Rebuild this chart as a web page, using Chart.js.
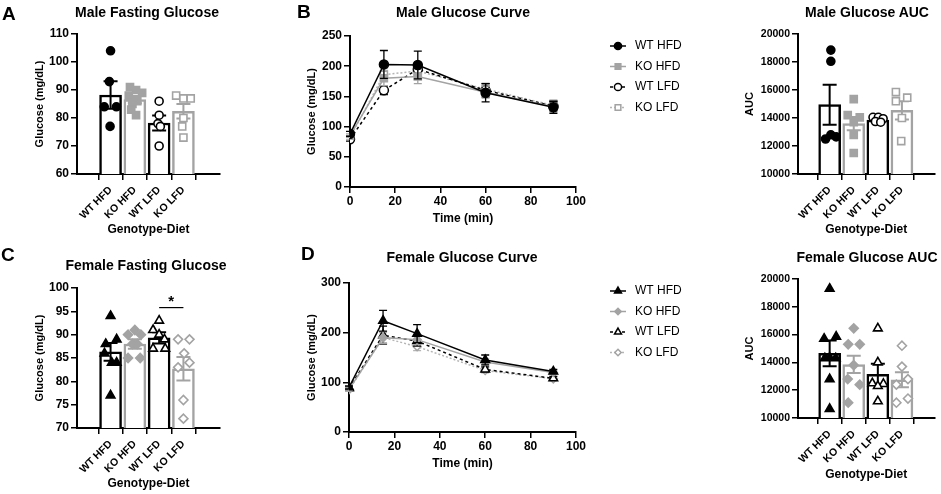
<!DOCTYPE html>
<html><head><meta charset="utf-8">
<script src="https://cdn.jsdelivr.net/npm/chart.js@4.4.1/dist/chart.umd.min.js"></script>
<style>
html,body{margin:0;padding:0;background:#fff;}
body{width:941px;height:494px;position:relative;overflow:hidden;font-family:"Liberation Sans",Arial,sans-serif;}
canvas{position:absolute;}
.t{position:absolute;font-weight:bold;color:#000;white-space:nowrap;line-height:1;}
.c{transform:translateX(-50%);font-size:14px;}
</style></head><body>
<canvas id="cA" width="230" height="245" style="left:0;top:0"></canvas>
<canvas id="cB" width="460" height="245" style="left:240px;top:0"></canvas>
<canvas id="cMA" width="241" height="245" style="left:700px;top:0"></canvas>
<canvas id="cC" width="230" height="249" style="left:0;top:245px"></canvas>
<canvas id="cD" width="460" height="249" style="left:240px;top:245px"></canvas>
<canvas id="cFA" width="241" height="249" style="left:700px;top:245px"></canvas>
<div class="t" style="left:2px;top:4px;font-size:19px">A</div>
<div class="t" style="left:297px;top:2px;font-size:19px">B</div>
<div class="t" style="left:1px;top:245px;font-size:19px">C</div>
<div class="t" style="left:301px;top:244px;font-size:19px">D</div>
<div class="t c" style="left:147px;top:5px">Male Fasting Glucose</div>
<div class="t c" style="left:463px;top:5px">Male Glucose Curve</div>
<div class="t c" style="left:867px;top:5px">Male Glucose AUC</div>
<div class="t c" style="left:146px;top:258px">Female Fasting Glucose</div>
<div class="t c" style="left:462px;top:250px">Female Glucose Curve</div>
<div class="t c" style="left:867px;top:250px">Female Glucose AUC</div>
<script>
// ---------- DATA ----------
const groups = ['WT HFD', 'KO HFD', 'WT LFD', 'KO LFD'];
const timePoints = [0, 15, 30, 60, 90];

// A: male fasting glucose (mg/dL)
const maleFastMean = [88.2, 86.6, 78.2, 82.4];
const maleFastSem = [4.9, 1.3, 2.7, 2.6];
const maleFastPts = [[104, 93, 84, 84, 77], [91, 90, 89, 88, 86, 85, 83, 81], [86, 81, 78, 77, 70], [88, 87, 87, 80, 77, 73]];
const maleFastJit = [[0, -0.05, -0.26, 0.24, -0.02], [-0.2, 0.05, 0.3, -0.25, 0.1, -0.1, -0.15, 0.05], [0, 0, -0.05, 0.05, 0], [-0.3, 0, 0.3, 0, -0.05, 0]];

// B: male glucose curve
const mWtHfd = [88, 203, 202, 156, 132];
const mWtHfdSem = [4, 23, 23, 15, 10];
const mKoHfd = [85, 180, 183, 157, 133];
const mKoHfdSem = [3, 12, 12, 10, 10];
const mWtLfd = [79, 160, 195, 160, 134];
const mWtLfdSem = [3, 7, 10, 11, 8];
const mKoLfd = [82, 186, 192, 162, 135];
const mKoLfdSem = [3, 10, 13, 10, 9];

// Male AUC
const mAucMean = [14950, 13600, 13850, 14550];
const mAucSem = [1430, 480, 100, 650];
const mAucPts = [[18850, 18050, 12800, 12650, 12500], [15350, 14200, 14050, 13700, 12800, 11500], [14050, 14050, 13950, 13750, 13700], [15850, 15450, 15200, 14000, 12350]];
const mAucJit = [[0.05, 0.05, 0.05, 0.27, -0.17], [0, -0.25, 0.25, 0, 0, 0], [-0.2, 0.02, 0.22, -0.1, 0.12], [-0.25, 0.22, -0.25, 0, -0.03]];

// C: female fasting glucose
const femFastMean = [86.3, 88.0, 89.3, 82.7];
const femFastSem = [1.9, 1.0, 1.2, 2.5];
const femFastPts = [[94, 89, 88, 86, 84, 84, 77], [91, 90, 90, 88, 88, 85, 85], [93, 91, 90, 89, 87, 87], [89, 89, 86, 84, 83, 76, 72]];
const femFastJit = [[0, 0.25, -0.2, -0.25, 0.05, 0.25, 0], [0, -0.28, 0.25, -0.1, 0.1, -0.28, 0.22], [0, -0.25, 0, 0.22, -0.25, 0.25], [-0.22, 0.25, 0.03, 0.25, -0.22, 0, 0]];
const sigPair = [2, 3];
const sigLevel = 95.8;

// D: female glucose curve
const fWtHfd = [90, 224, 198, 145, 122];
const fWtHfdSem = [3, 21, 18, 10, 4];
const fKoHfd = [86, 190, 186, 141, 120];
const fKoHfdSem = [3, 12, 10, 6, 4];
const fWtLfd = [88, 195, 183, 126, 108];
const fWtLfdSem = [3, 18, 10, 5, 4];
const fKoLfd = [85, 190, 172, 124, 107];
const fKoLfdSem = [3, 10, 8, 5, 4];

// Female AUC
const fAucMean = [14650, 13850, 13150, 12750];
const fAucSem = [920, 620, 760, 540];
const fAucPts = [[19300, 15850, 15700, 14350, 14300, 14300, 12800, 10650], [16450, 15300, 15300, 13800, 12800, 12400, 11100], [16450, 14000, 12500, 12450, 12300, 11200], [15200, 13700, 12800, 12400, 11400, 11100]];
const fAucJit = [[0, 0.27, -0.23, 0, -0.2, 0.25, 0, 0], [0, -0.23, 0.25, 0, -0.25, 0.25, -0.23], [0, 0, -0.23, 0.23, 0, 0], [0, 0, 0.25, -0.23, 0.25, -0.23]];

// ---------- STYLE ----------
Chart.defaults.font.family = "'Liberation Sans', Arial, sans-serif";
Chart.defaults.color = '#000';
const BLACK = '#000000', GRAY = '#a3a3a3', LGRAY = '#b5b5b5';
const groupColors = [BLACK, GRAY, BLACK, GRAY];
const bold = s => ({ size: s, weight: 'bold' });

function drawErr(chart, meta, ds) {
  const ctx = chart.ctx, ys = chart.scales.y;
  ctx.save(); ctx.setLineDash([]); ctx.lineWidth = ds.errWidth;
  meta.data.forEach((el, i) => {
    const v = ds.data[i].y, e = ds.errors[i], x = el.x, h = ds.capHalf;
    const yT = ys.getPixelForValue(v + e), yB = ys.getPixelForValue(v - e);
    ctx.strokeStyle = Array.isArray(ds.errColor) ? ds.errColor[i] : ds.errColor;
    ctx.beginPath();
    ctx.moveTo(x, yT); ctx.lineTo(x, yB);
    ctx.moveTo(x - h, yT); ctx.lineTo(x + h, yT);
    ctx.moveTo(x - h, yB); ctx.lineTo(x + h, yB);
    ctx.stroke();
  });
  ctx.restore();
}
const errorBars = {
  id: 'errorBars',
  beforeDatasetDraw(chart, args) { const ds = chart.data.datasets[args.index]; if (ds.errors && ds.errBehind) drawErr(chart, args.meta, ds); },
  afterDatasetDraw(chart, args) { const ds = chart.data.datasets[args.index]; if (ds.errors && !ds.errBehind) drawErr(chart, args.meta, ds); }
};
function marker(ctx, ds, r, x, y) {
  ctx.fillStyle = ds.pointBackgroundColor; ctx.strokeStyle = ds.pointBorderColor; ctx.lineWidth = ds.pointBorderWidth;
  if (Chart.helpers && Chart.helpers.drawPoint) {
    Chart.helpers.drawPoint(ctx, { pointStyle: ds.pointStyle, radius: r, borderWidth: ds.pointBorderWidth, rotation: 0 }, x, y);
  } else { ctx.beginPath(); ctx.arc(x, y, r, 0, Math.PI * 2); ctx.fill(); ctx.stroke(); }
}
const sideLegend = {
  id: 'sideLegend',
  afterDraw(chart, args, o) {
    if (!o || o.x0 === undefined) return;
    const ctx = chart.ctx;
    chart.data.datasets.forEach((ds, i) => {
      const y = o.y0 + i * o.dy;
      ctx.save();
      ctx.strokeStyle = ds.borderColor; ctx.lineWidth = ds.borderWidth; ctx.setLineDash(ds.borderDash || []);
      ctx.beginPath(); ctx.moveTo(o.x0, y); ctx.lineTo(o.x1, y); ctx.stroke();
      ctx.setLineDash([]);
      marker(ctx, ds, ds.pointRadius * 0.8, (o.x0 + o.x1) / 2, y);
      ctx.fillStyle = '#000'; ctx.font = o.font; ctx.textBaseline = 'middle'; ctx.textAlign = 'left';
      ctx.fillText(ds.label, o.tx, y);
      ctx.restore();
    });
  }
};
const sigBar = {
  id: 'sigBar',
  afterDraw(chart, args, o) {
    if (!o || o.pair === undefined) return;
    const ctx = chart.ctx, xs = chart.scales.x, ys = chart.scales.y;
    const x1 = xs.getPixelForValue(o.pair[0]), x2 = xs.getPixelForValue(o.pair[1]), y = ys.getPixelForValue(o.level);
    ctx.save(); ctx.strokeStyle = '#000'; ctx.lineWidth = 1.2;
    ctx.beginPath(); ctx.moveTo(x1, y); ctx.lineTo(x2, y); ctx.stroke();
    ctx.fillStyle = '#000'; ctx.font = "bold 15px 'Liberation Sans', Arial"; ctx.textAlign = 'center'; ctx.textBaseline = 'bottom';
    ctx.fillText('*', (x1 + x2) / 2, y + 2);
    ctx.restore();
  }
};
const axisGrid = { drawOnChartArea: false, drawTicks: true, tickLength: 6, color: '#000', lineWidth: 1.5 };
const axisBorder = { display: true, color: '#000', width: 2 };

function barChart(id, p) {
  const datasets = [{
    type: 'bar', data: p.mean.map((v, i) => ({ x: i, y: v })),
    backgroundColor: '#fff', borderColor: groupColors, borderWidth: 2.5, barThickness: 22, order: 2,
    errors: p.sem, errColor: groupColors, capHalf: 7, errWidth: 2
  }];
  p.pts.forEach((arr, g) => {
    datasets.push({
      type: 'scatter', data: arr.map((v, k) => ({ x: g + p.jit[g][k], y: v })),
      pointStyle: p.styles[g], pointRadius: p.radii[g], pointBackgroundColor: p.fills[g],
      pointBorderColor: groupColors[g], pointBorderWidth: 1.6, order: 1
    });
  });
  new Chart(document.getElementById(id), {
    type: 'scatter', data: { datasets },
    options: {
      responsive: false, animation: false, layout: { padding: p.pad },
      plugins: { legend: { display: false }, tooltip: { enabled: false }, sigBar: p.sig || {} },
      scales: {
        x: {
          type: 'linear', min: p.xmin, max: p.xmax,
          afterBuildTicks: s => { s.ticks = groups.map((g, i) => ({ value: i })); },
          afterFit: s => { s.height = p.hx; },
          ticks: { autoSkip: false, minRotation: 45, maxRotation: 45, padding: 4, font: bold(10.5), color: '#000', callback: v => groups[v] },
          grid: axisGrid, border: axisBorder,
          title: { display: true, text: 'Genotype-Diet', font: bold(12), color: '#000', padding: { top: 0, bottom: p.tb } }
        },
        y: {
          type: 'linear', min: p.ymin, max: p.ymax,
          afterFit: s => { s.width = p.wy; },
          ticks: { stepSize: p.step, font: bold(p.yf), color: '#000', padding: 2, callback: v => String(v) },
          grid: axisGrid, border: axisBorder,
          title: { display: true, text: p.ytitle, font: bold(11), color: '#000', padding: { top: 4, bottom: 4 } }
        }
      }
    },
    plugins: [errorBars, sigBar]
  });
}

function lineDs(label, vals, sem, st) {
  return Object.assign({
    label, data: timePoints.map((t, i) => ({ x: t, y: vals[i] })), errors: sem, errBehind: true,
    borderWidth: 1.5, fill: false, tension: 0, pointBorderWidth: 1.5, capHalf: 4, errWidth: 1.3
  }, st);
}
function lineChart(id, p) {
  new Chart(document.getElementById(id), {
    type: 'line', data: { datasets: p.datasets },
    options: {
      responsive: false, animation: false, layout: { padding: p.pad },
      plugins: { legend: { display: false }, tooltip: { enabled: false }, sideLegend: p.legend },
      scales: {
        x: {
          type: 'linear', min: 0, max: 100, afterFit: s => { s.height = p.hx; },
          ticks: { stepSize: 20, font: bold(12), color: '#000', padding: 1, maxRotation: 0 },
          grid: axisGrid, border: axisBorder,
          title: { display: true, text: 'Time (min)', font: bold(12), color: '#000', padding: { top: 0, bottom: 4 } }
        },
        y: {
          type: 'linear', min: 0, max: p.ymax, afterFit: s => { s.width = p.wy; },
          ticks: { stepSize: p.step, font: bold(12), color: '#000', padding: 2 },
          grid: axisGrid, border: axisBorder,
          title: { display: true, text: 'Glucose (mg/dL)', font: bold(11), color: '#000', padding: { top: 4, bottom: 4 } }
        }
      }
    },
    plugins: [errorBars, sideLegend]
  });
}

const legendOpts = { x0: 370, x1: 386, tx: 395, y0: 46, dy: 20.5, font: "12px 'Liberation Sans', Arial, sans-serif" };

// A
barChart('cA', {
  mean: maleFastMean, sem: maleFastSem, pts: maleFastPts, jit: maleFastJit,
  styles: ['circle', 'rect', 'circle', 'rect'], radii: [4, 5, 4, 5], fills: [BLACK, GRAY, '#fff', '#fff'],
  pad: { left: 29, top: 34, right: 10, bottom: 4 }, wy: 48, hx: 67, tb: 4, xmin: -0.646, xmax: 3.77,
  ymin: 60, ymax: 110, step: 10, yf: 12, ytitle: 'Glucose (mg/dL)'
});
// B
lineChart('cB', {
  datasets: [
    lineDs('WT HFD', mWtHfd, mWtHfdSem, { borderColor: BLACK, errColor: BLACK, pointStyle: 'circle', pointRadius: 4.5, pointBackgroundColor: BLACK, pointBorderColor: BLACK }),
    lineDs('KO HFD', mKoHfd, mKoHfdSem, { borderColor: GRAY, errColor: GRAY, pointStyle: 'rect', pointRadius: 5, pointBackgroundColor: GRAY, pointBorderColor: GRAY }),
    lineDs('WT LFD', mWtLfd, mWtLfdSem, { borderColor: BLACK, errColor: BLACK, borderDash: [3, 3], pointStyle: 'circle', pointRadius: 4.5, pointBackgroundColor: '#fff', pointBorderColor: BLACK }),
    lineDs('KO LFD', mKoLfd, mKoLfdSem, { borderColor: LGRAY, errColor: LGRAY, borderDash: [2, 2], pointStyle: 'rect', pointRadius: 5, pointBackgroundColor: '#fff', pointBorderColor: GRAY })
  ],
  pad: { left: 61, top: 36, right: 124, bottom: 15 }, wy: 49, hx: 43, ymax: 250, step: 50, legend: legendOpts
});
// Male AUC
barChart('cMA', {
  mean: mAucMean, sem: mAucSem, pts: mAucPts, jit: mAucJit,
  styles: ['circle', 'rect', 'circle', 'rect'], radii: [4, 5, 4, 5], fills: [BLACK, GRAY, '#fff', '#fff'],
  pad: { left: 39, top: 34, right: 3, bottom: 4 }, wy: 59, hx: 67, tb: 4, xmin: -0.606, xmax: 3.64,
  ymin: 10000, ymax: 20000, step: 2000, yf: 10.5, ytitle: 'AUC'
});
// C
barChart('cC', {
  mean: femFastMean, sem: femFastSem, pts: femFastPts, jit: femFastJit,
  styles: ['triangle', 'rectRot', 'triangle', 'rectRot'], radii: [5, 4.5, 5, 4.5], fills: [BLACK, GRAY, '#fff', '#fff'],
  pad: { left: 29, top: 43, right: 10, bottom: 1 }, wy: 48, hx: 65, tb: 2, xmin: -0.646, xmax: 3.77,
  ymin: 70, ymax: 100, step: 5, yf: 12, ytitle: 'Glucose (mg/dL)', sig: { pair: sigPair, level: sigLevel }
});
// D
lineChart('cD', {
  datasets: [
    lineDs('WT HFD', fWtHfd, fWtHfdSem, { borderColor: BLACK, errColor: BLACK, pointStyle: 'triangle', pointRadius: 5, pointBackgroundColor: BLACK, pointBorderColor: BLACK }),
    lineDs('KO HFD', fKoHfd, fKoHfdSem, { borderColor: GRAY, errColor: GRAY, pointStyle: 'rectRot', pointRadius: 4, pointBackgroundColor: GRAY, pointBorderColor: GRAY }),
    lineDs('WT LFD', fWtLfd, fWtLfdSem, { borderColor: BLACK, errColor: BLACK, borderDash: [3, 3], pointStyle: 'triangle', pointRadius: 5, pointBackgroundColor: '#fff', pointBorderColor: BLACK }),
    lineDs('KO LFD', fKoLfd, fKoLfdSem, { borderColor: LGRAY, errColor: LGRAY, borderDash: [2, 2], pointStyle: 'rectRot', pointRadius: 4, pointBackgroundColor: '#fff', pointBorderColor: GRAY })
  ],
  pad: { left: 61, top: 38, right: 124, bottom: 19 }, wy: 48, hx: 43, ymax: 300, step: 100, legend: legendOpts
});
// Female AUC
barChart('cFA', {
  mean: fAucMean, sem: fAucSem, pts: fAucPts, jit: fAucJit,
  styles: ['triangle', 'rectRot', 'triangle', 'rectRot'], radii: [5, 4.5, 5, 4.5], fills: [BLACK, GRAY, '#fff', '#fff'],
  pad: { left: 39, top: 34, right: 3, bottom: 8 }, wy: 59, hx: 68, tb: 4, xmin: -0.606, xmax: 3.64,
  ymin: 10000, ymax: 20000, step: 2000, yf: 10.5, ytitle: 'AUC'
});
</script>
</body></html>
